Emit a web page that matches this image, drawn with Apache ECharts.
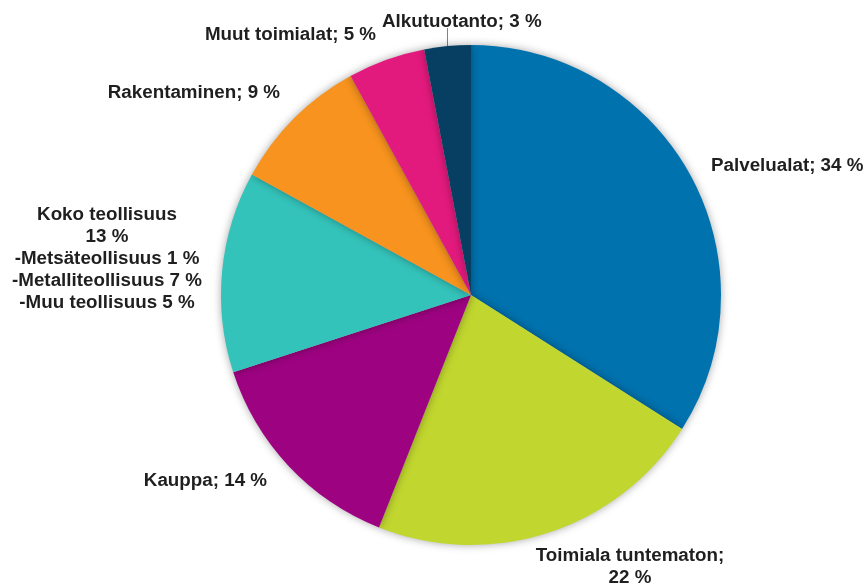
<!DOCTYPE html>
<html><head><meta charset="utf-8">
<script src="https://cdn.jsdelivr.net/npm/echarts@6/dist/echarts.min.js"></script>
<style>html,body{margin:0;padding:0;background:#fff}#c{width:867px;height:588px}</style>
</head><body><div id="c"></div>
<script>
var categories = ["Palvelualat", "Toimiala tuntematon", "Kauppa", "Koko teollisuus", "Rakentaminen", "Muut toimialat", "Alkutuotanto"];
var values = [34, 22, 14, 13, 9, 5, 3];
var labelTexts = [
  "Palvelualat; 34 %",
  "Toimiala tuntematon;\n22 %",
  "Kauppa; 14 %",
  "Koko teollisuus\n13 %\n-Metsäteollisuus 1 %\n-Metalliteollisuus 7 %\n-Muu teollisuus 5 %",
  "Rakentaminen; 9 %",
  "Muut toimialat; 5 %",
  "Alkutuotanto; 3 %"
];
var colors = ["#0072AE", "#C1D72F", "#9D0380", "#34C3BA", "#F7931E", "#E31A7D", "#073F62"];
var labelPos = [
  {x: 711, y: 166, align: "left"},
  {x: 630, y: 567, align: "center"},
  {x: 267, y: 481, align: "right"},
  {x: 107, y: 259, align: "center"},
  {x: 280, y: 93, align: "right"},
  {x: 376, y: 35, align: "right"},
  {x: 382, y: 22, align: "left"}
];
var chart = echarts.init(document.getElementById("c"), null, {renderer: "canvas"});
chart.setOption({
  animation: false,
  backgroundColor: "#fff",
  series: [{
    type: "pie",
    center: [471, 295],
    radius: 250,
    startAngle: 90,
    clockwise: true,
    data: categories.map(function (c, i) {
      return {
        name: c, value: values[i],
        itemStyle: {color: colors[i]},
        labelLine: {show: i === 6, lineStyle: {color: "#808080", width: 1}}
      };
    }),
    itemStyle: {shadowBlur: 8, shadowColor: "rgba(0,0,0,0.35)", borderWidth: 0},
    label: {
      show: true,
      position: "outside",
      formatter: function (p) { return labelTexts[p.dataIndex]; },
      fontFamily: "'Liberation Sans', Arial, sans-serif",
      fontWeight: "bold",
      fontSize: 18.8,
      lineHeight: 22,
      color: "#1f1f1f"
    },
    labelLine: {show: false, length: 5, length2: 5},
    labelLayout: function (params) {
      var p = labelPos[params.dataIndex];
      var out = {x: p.x, y: p.y, align: p.align, verticalAlign: "middle", hideOverlap: false, moveOverlap: null};
      if (params.dataIndex === 6 && params.labelLinePoints) {
        var s = params.labelLinePoints[0];
        out.labelLinePoints = [[s[0], s[1]], [s[0], 28], [s[0], 28]];
      }
      return out;
    }
  }]
});
</script></body></html>
